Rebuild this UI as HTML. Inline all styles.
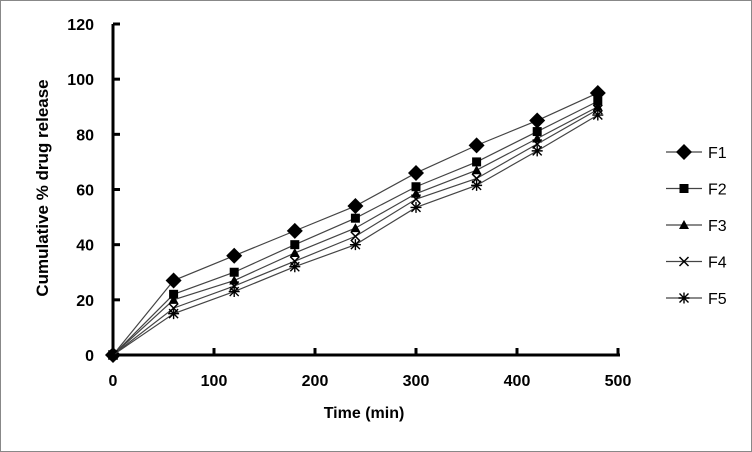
<!DOCTYPE html>
<html><head><meta charset="utf-8"><style>
html,body{margin:0;padding:0;background:#fff}
svg{display:block;font-family:"Liberation Sans",Arial,sans-serif}
</style></head><body>
<svg id="chart" width="752" height="452" viewBox="0 0 752 452">
<rect x="0.5" y="0.5" width="751" height="451" fill="#fff" stroke="#888"/>
<g id="plot"></g>
<text x="364" y="418" font-size="16" font-weight="bold" text-anchor="middle">Time (min)</text>
<text transform="translate(48,188) rotate(-90)" font-size="17" font-weight="bold" text-anchor="middle">Cumulative % drug release</text>
</svg>
<script>
const times=[0,60,120,180,240,300,360,420,480];
const seriesNames=["F1","F2","F3","F4","F5"];
const f1=[0,27,36,45,54,66,76,85,95];
const f2=[0,22,30,40,49.6,61,70,81,92];
const f3=[0,20,27,37,46,58.5,67,78.5,90];
const f4=[0,17,25,34,43,56.5,64,76.5,89];
const f5=[0,15,23,32,40,53.5,61.5,74,87];
const xTicks=[0,100,200,300,400,500];
const yTicks=[0,20,40,60,80,100,120];
const series=[f1,f2,f3,f4,f5];
const markers=["diamond","square","triangle","x","star"];
const NS="http://www.w3.org/2000/svg";
const g=document.getElementById('plot');
const X=v=>113+v*(618-113)/500;
const Y=v=>355-v*(355-24)/120;
function mk(tag,a){const e=document.createElementNS(NS,tag);for(const k in a)e.setAttribute(k,a[k]);g.appendChild(e);return e;}
function marker(type,x,y,name){
  let e;
  if(type==="diamond")e=mk('path',{d:`M${x} ${y-8}L${x+8} ${y}L${x} ${y+8}L${x-8} ${y}Z`,fill:'#000'});
  else if(type==="square")e=mk('rect',{x:x-4.5,y:y-4.5,width:9,height:9,fill:'#000'});
  else if(type==="triangle")e=mk('path',{d:`M${x} ${y-5}L${x+5} ${y+4}L${x-5} ${y+4}Z`,fill:'#000'});
  else if(type==="x")e=mk('path',{d:`M${x-4.5} ${y-4.5}L${x+4.5} ${y+4.5}M${x+4.5} ${y-4.5}L${x-4.5} ${y+4.5}`,stroke:'#000','stroke-width':1.5});
  else e=mk('path',{d:`M${x-4.5} ${y-4.5}L${x+4.5} ${y+4.5}M${x+4.5} ${y-4.5}L${x-4.5} ${y+4.5}M${x} ${y-5.5}L${x} ${y+5.5}M${x-5.5} ${y}L${x+5.5} ${y}`,stroke:'#000','stroke-width':1.4});
  
  
}
let a=mk('line',{x1:113,y1:24,x2:113,y2:356,stroke:'#000','stroke-width':3});


a=mk('line',{x1:112,y1:355,x2:620,y2:355,stroke:'#000','stroke-width':3});


yTicks.forEach(t=>{
  const y=Y(t);
  let l=mk('line',{x1:113,y1:y,x2:120,y2:y,stroke:'#000','stroke-width':3});
  
  
  let tx=mk('text',{x:94,y:y+6,'font-size':16,'font-weight':'bold','text-anchor':'end'});
  tx.textContent=t;
  
  
});
xTicks.forEach(t=>{
  const x=X(t);
  let l=mk('line',{x1:x,y1:348,x2:x,y2:355,stroke:'#000','stroke-width':3});
  
  
  let tx=mk('text',{x:x,y:386,'font-size':16,'font-weight':'bold','text-anchor':'middle'});
  tx.textContent=t;
  
  
});
series.forEach((s,i)=>{
  const p=mk('polyline',{points:s.map((v,j)=>X(times[j])+','+Y(v)).join(' '),fill:'none',stroke:'#444','stroke-width':1.2});
  
  
  s.forEach((v,j)=>marker(markers[i],X(times[j]),Y(v),'point-'+seriesNames[i].toLowerCase()));
  const ly=152+i*36.5;
  const l=mk('line',{x1:666,y1:ly,x2:702,y2:ly,stroke:'#444','stroke-width':1.2});
  
  
  marker(markers[i],684,ly,'legend-marker');
  const t=mk('text',{x:708,y:ly+6,'font-size':16});
  t.textContent=seriesNames[i];
  
  
});
</script>
</body></html>
